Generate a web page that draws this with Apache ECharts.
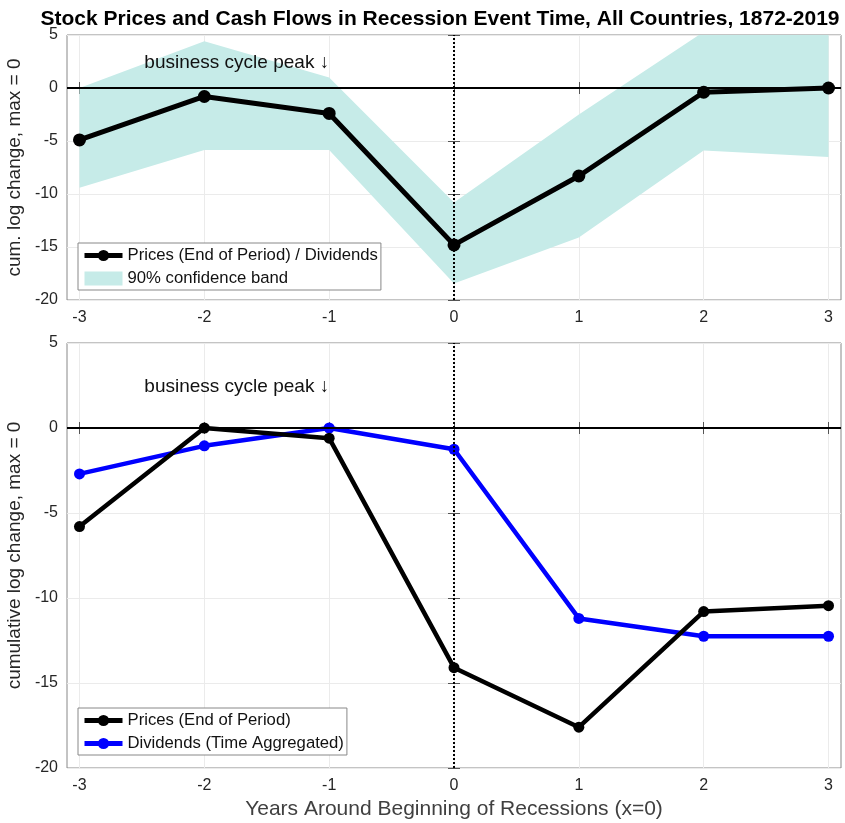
<!DOCTYPE html>
<html>
<head>
<meta charset="utf-8">
<script src="https://cdn.jsdelivr.net/npm/echarts@6/dist/echarts.min.js"></script>
<style>
  html, body { margin: 0; padding: 0; background: #fff; }
  #chart { width: 845px; height: 823px; }
</style>
</head>
<body>
<div id="chart"></div>
<script>
// event time in years around the business cycle peak
const years = [-3, -2, -1, 0, 1, 2, 3];
const xTicks = [-3, -2, -1, 0, 1, 2, 3];

// top panel: prices / dividends and its 90% band
const ratioPd = [-4.9, -0.8, -2.4, -14.8, -8.3, -0.4, 0];
const bandUpper = [0.0, 4.4, 1.0, -10.8, -2.5, 5.3, 7.5];
const bandLower = [-9.4, -5.85, -5.85, -18.45, -14.1, -5.9, -6.5];

// bottom panel
const prices = [-5.8, 0, -0.6, -14.1, -17.6, -10.8, -10.45];
const dividends = [-2.7, -1.05, 0, -1.25, -11.2, -12.25, -12.25];

const peakLabel = "business cycle peak \u2193";
const textColor = "#262626";
const bandColor = "#c6ebe8";
const fontFamily = "Liberation Sans, Arial, sans-serif";

const chart = echarts.init(document.getElementById("chart"));

function pairs(ys) {
  return years.map((x, i) => [x, ys[i]]);
}

function xAxisFor(gridIndex, withName) {
  return {
    type: "value",
    gridIndex: gridIndex,
    min: -3.1,
    max: 3.1,
    name: withName ? "Years Around Beginning of Recessions (x=0)" : "",
    nameLocation: "middle",
    nameGap: 28,
    nameTextStyle: { fontSize: 21, color: "#404040", fontFamily: fontFamily },
    axisLine: { show: false },
    axisTick: { inside: true, length: 6, customValues: xTicks, lineStyle: { color: "#555" } },
    axisLabel: { customValues: xTicks, fontSize: 16, color: textColor, margin: 10, fontFamily: fontFamily },
    splitLine: { show: true, lineStyle: { color: "#ebebeb", width: 1 } }
  };
}

// top edge of the box: ticks only
function xTopFor(gridIndex) {
  return {
    type: "value",
    gridIndex: gridIndex,
    position: "top",
    min: -3.1,
    max: 3.1,
    axisLine: { show: false },
    axisTick: { inside: true, length: 6, customValues: xTicks, lineStyle: { color: "#555" } },
    axisLabel: { show: false },
    splitLine: { show: false }
  };
}

function yAxisFor(gridIndex, name) {
  return {
    type: "value",
    gridIndex: gridIndex,
    min: -20,
    max: 5,
    interval: 5,
    name: name,
    nameLocation: "middle",
    nameGap: 35,
    nameTextStyle: { fontSize: 19, color: textColor, fontFamily: fontFamily },
    axisLine: { show: false },
    axisTick: { inside: true, length: 6, lineStyle: { color: "#555" } },
    axisLabel: { fontSize: 16, color: textColor, margin: 9, fontFamily: fontFamily },
    splitLine: { show: true, lineStyle: { color: "#ebebeb", width: 1 } }
  };
}

function yRightFor(gridIndex) {
  return {
    type: "value",
    gridIndex: gridIndex,
    position: "right",
    min: -20,
    max: 5,
    interval: 5,
    axisLine: { show: false },
    axisTick: { inside: true, length: 6, lineStyle: { color: "#555" } },
    axisLabel: { show: false },
    splitLine: { show: false }
  };
}

function refLines() {
  return {
    silent: true,
    symbol: "none",
    label: { show: false },
    animation: false,
    data: [
      { yAxis: 0, lineStyle: { color: "#000", width: 2, type: "solid" } },
      { xAxis: 0, lineStyle: { color: "#000", width: 2, type: [2, 2] } }
    ]
  };
}

function peakText(xi, yi) {
  return {
    type: "scatter",
    xAxisIndex: xi,
    yAxisIndex: yi,
    silent: true,
    symbolSize: 0,
    itemStyle: { color: "#000", opacity: 1 },
    data: [[-1, 2.4]],
    label: {
      show: true,
      formatter: peakLabel,
      position: "left",
      distance: 0,
      fontSize: 19,
      color: "#111",
      opacity: 1,
      fontFamily: fontFamily
    }
  };
}

const legendCommon = {
  orient: "vertical",
  left: 78,
  backgroundColor: "#fff",
  borderColor: "#888",
  borderWidth: 1,
  padding: [4, 3, 3, 4],
  itemGap: 6,
  itemWidth: 38,
  itemHeight: 14,
  lineStyle: { width: 5 },
  textStyle: { fontSize: 16.7, color: "#111", fontFamily: fontFamily }
};

const gridCommon = {
  left: 67,
  right: 4,
  show: true,
  borderColor: "#888",
  borderWidth: 1,
  backgroundColor: "transparent",
  outerBoundsMode: "none",
  containLabel: false
};

chart.setOption({
  animation: false,
  title: {
    text: "Stock Prices and Cash Flows in Recession Event Time, All Countries, 1872-2019",
    left: 435,
    textAlign: "center",
    top: 4,
    textStyle: { fontSize: 21, fontWeight: "bold", color: "#000", fontFamily: fontFamily }
  },
  grid: [
    Object.assign({}, gridCommon, { top: 35, height: 265 }),
    Object.assign({}, gridCommon, { top: 343, height: 425 })
  ],
  xAxis: [xAxisFor(0, false), xAxisFor(1, true), xTopFor(0), xTopFor(1)],
  yAxis: [
    yAxisFor(0, "cum. log change, max = 0"),
    yAxisFor(1, "cumulative log change, max = 0"),
    yRightFor(0),
    yRightFor(1)
  ],
  legend: [
    Object.assign({}, legendCommon, {
      top: 243,
      data: [
        { name: "Prices (End of Period) / Dividends" },
        { name: "90% confidence band", icon: "rect" }
      ]
    }),
    Object.assign({}, legendCommon, {
      top: 708,
      data: [
        { name: "Prices (End of Period)" },
        { name: "Dividends (Time Aggregated)" }
      ]
    })
  ],
  series: [
    {
      name: "90% confidence band",
      type: "custom",
      xAxisIndex: 0,
      yAxisIndex: 0,
      clip: true,
      silent: true,
      z: 1,
      itemStyle: { color: bandColor },
      data: years.map((x, i) => [x, bandUpper[i], bandLower[i]]),
      encode: { x: 0, y: [1, 2] },
      renderItem: function (params, api) {
        if (params.dataIndex !== 0) return null;
        const pts = [];
        for (let i = 0; i < years.length; i++) pts.push(api.coord([years[i], bandUpper[i]]));
        for (let i = years.length - 1; i >= 0; i--) pts.push(api.coord([years[i], bandLower[i]]));
        return { type: "polygon", shape: { points: pts }, style: { fill: bandColor } };
      }
    },
    {
      name: "Prices (End of Period) / Dividends",
      type: "line",
      xAxisIndex: 0,
      yAxisIndex: 0,
      z: 5,
      symbol: "circle",
      symbolSize: 13,
      color: "#000",
      lineStyle: { width: 5, color: "#000" },
      itemStyle: { color: "#000" },
      data: pairs(ratioPd),
      markLine: refLines()
    },
    peakText(0, 0),
    {
      name: "Dividends (Time Aggregated)",
      type: "line",
      xAxisIndex: 1,
      yAxisIndex: 1,
      z: 4,
      symbol: "circle",
      symbolSize: 11,
      color: "#0000ff",
      lineStyle: { width: 4.5, color: "#0000ff" },
      itemStyle: { color: "#0000ff" },
      data: pairs(dividends)
    },
    {
      name: "Prices (End of Period)",
      type: "line",
      xAxisIndex: 1,
      yAxisIndex: 1,
      z: 5,
      symbol: "circle",
      symbolSize: 11,
      color: "#000",
      lineStyle: { width: 4.5, color: "#000" },
      itemStyle: { color: "#000" },
      data: pairs(prices),
      markLine: refLines()
    },
    peakText(1, 1)
  ]
});
</script>
</body>
</html>
